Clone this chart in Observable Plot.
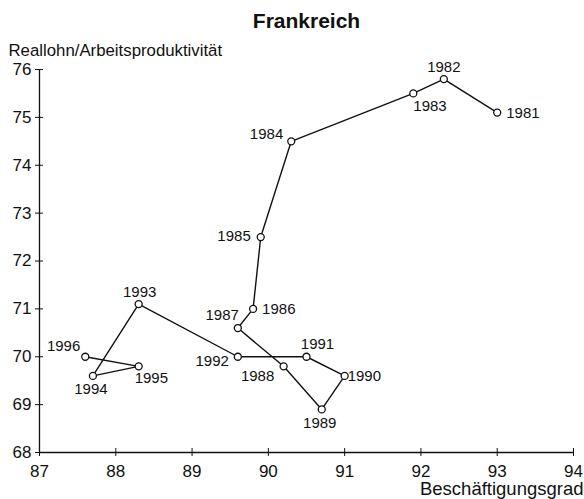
<!DOCTYPE html>
<html><head><meta charset="utf-8">
<script src="https://cdn.jsdelivr.net/npm/d3@7"></script>
<script src="https://cdn.jsdelivr.net/npm/@observablehq/plot@0.6"></script>
<style>body{margin:0;background:#fff}</style>
</head><body><div id="chart"></div>
<script>
const years = [1981,1982,1983,1984,1985,1986,1987,1988,1989,1990,1991,1992,1993,1994,1995,1996];
const employment = [93.0,92.3,91.9,90.3,89.9,89.8,89.6,90.2,90.7,91.0,90.5,89.6,88.3,87.7,88.3,87.6];
const wageRatio = [75.1,75.8,75.5,74.5,72.5,71.0,70.6,69.8,68.9,69.6,70.0,70.0,71.1,69.6,69.8,70.0];
// label placement per year: [textAnchor, dx, dy]
const labelPos = {
  1981:["start",9,1],1982:["middle",0,-12],1983:["start",0,13],1984:["end",-8,-7],
  1985:["end",-10,-1],1986:["start",9,0],1987:["end",1,-13],1988:["middle",-26,10],
  1989:["middle",-2,14],1990:["start",3,0],1991:["middle",11,-13],1992:["end",-9,4],
  1993:["middle",1,-12],1994:["middle",-2,13],1995:["start",-4,12],1996:["end",-5,-11]
};
const xTicks = [87,88,89,90,91,92,93,94];
const yTicks = [68,69,70,71,72,73,74,75,76];

const data = years.map((y,i)=>({year:y, x:employment[i], y:wageRatio[i]}));
const font = "Liberation Sans, Arial, Helvetica, sans-serif";

const plot = Plot.plot({
  width:584, height:499,
  marginTop:69, marginLeft:39, marginRight:11, marginBottom:47,
  style:{fontFamily:font, background:"#fff", color:"#111"},
  x:{domain:[87,94]}, y:{domain:[68,76]},
  marks:[
    Plot.axisX({ticks:xTicks, tickSize:4, tickPadding:8, fontSize:17, label:null, tickFormat:d=>String(d)}),
    Plot.axisX({ticks:xTicks, tickSize:-4, text:null, label:null}),
    Plot.axisY({ticks:yTicks, tickSize:4, tickPadding:4, fontSize:17, label:null, tickFormat:d=>String(d)}),
    Plot.axisY({ticks:yTicks, tickSize:-4, text:null, label:null}),
    Plot.ruleX([87], {stroke:"#111", strokeWidth:1.3}),
    Plot.ruleY([68], {stroke:"#111", strokeWidth:1.3}),
    Plot.line(data, {x:"x", y:"y", stroke:"#111", strokeWidth:1.4}),
    Plot.dot(data, {x:"x", y:"y", r:3.5, fill:"#fff", stroke:"#111", strokeWidth:1.3}),
    ...years.map((yr,i)=>Plot.text([data[i]], {x:"x", y:"y", text:d=>String(d.year),
      textAnchor:labelPos[yr][0], dx:labelPos[yr][1], dy:labelPos[yr][2], fontSize:15, fill:"#111"})),
    Plot.text(["Frankreich"], {frameAnchor:"top", dy:-56, fontSize:21, fontWeight:"bold", fill:"#111"}),
    Plot.text(["Reallohn/Arbeitsproduktivität"], {frameAnchor:"top-left", dx:-31, dy:-25, fontSize:16.8, textAnchor:"start", fill:"#111"}),
    Plot.text(["Beschäftigungsgrad"], {frameAnchor:"bottom-right", dx:10, dy:42, fontSize:18.5, textAnchor:"end", fill:"#111"})
  ]
});
document.getElementById("chart").append(plot);
</script></body></html>
